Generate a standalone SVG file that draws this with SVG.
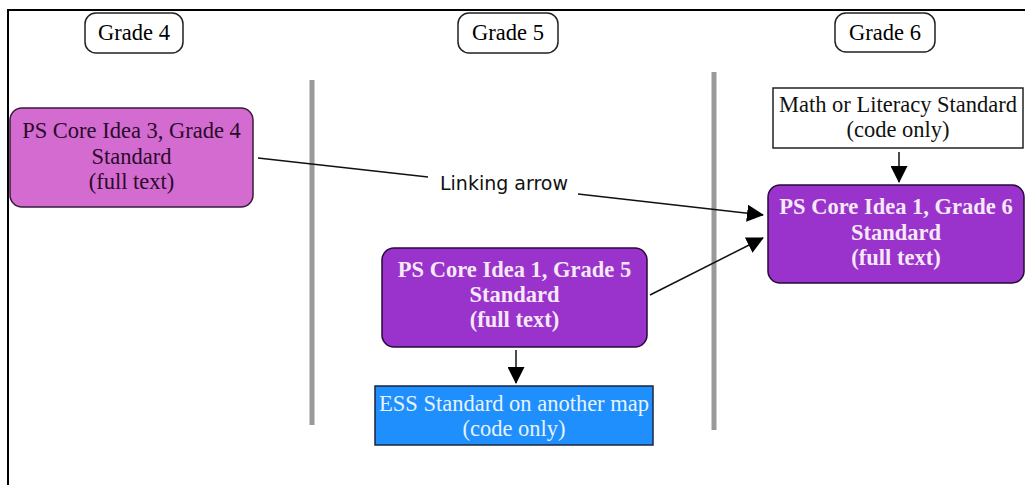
<svg xmlns="http://www.w3.org/2000/svg" width="1025" height="485" viewBox="0 0 1025 485">
<style>
.serif{font-family:"Liberation Serif","Times New Roman",serif;font-size:22.5px;text-anchor:middle}
.bold{font-weight:bold;fill:#f6e8f6}
.grade{fill:#fff;stroke:#222;stroke-width:1.5}
.divider{stroke:#9a9a9a;stroke-width:5}
.link{stroke:#111;stroke-width:1.5;fill:none}
</style>
<defs>
<marker id="ah" markerUnits="userSpaceOnUse" markerWidth="17" markerHeight="17" viewBox="0 0 17 17" refX="16" refY="8.5" orient="auto">
<path d="M0,0 L17,8.5 L0,17 Z" fill="#000"/>
</marker>
</defs>
<rect width="1025" height="485" fill="#fff"/>
<path d="M8,485 V10 H1025" fill="none" stroke="#000" stroke-width="2"/>
<line class="divider" x1="312" y1="80" x2="312" y2="425"/>
<line class="divider" x1="714" y1="72" x2="714" y2="430"/>
<g id="grade4"><rect class="grade" x="85" y="13" width="98" height="40" rx="11"/><text class="serif" x="134" y="40">Grade 4</text></g>
<g id="grade5"><rect class="grade" x="458" y="13" width="100" height="40" rx="11"/><text class="serif" x="508" y="40">Grade 5</text></g>
<g id="grade6"><rect class="grade" x="835" y="13" width="100" height="39" rx="11"/><text class="serif" x="885" y="40">Grade 6</text></g>
<g id="ps3g4"><rect x="10" y="108" width="243" height="99" rx="12" fill="#d46bd0" stroke="#3a1a3a" stroke-width="1.5"/>
<text class="serif" fill="#2a0a2a"><tspan x="131.5" y="138">PS Core Idea 3, Grade 4</tspan><tspan x="131.5" y="164">Standard</tspan><tspan x="131.5" y="189">(full text)</tspan></text></g>
<g id="ps1g5"><rect x="382" y="248" width="265" height="99" rx="12" fill="#9933cc" stroke="#2a0a3a" stroke-width="1.5"/>
<text class="serif bold"><tspan x="514.5" y="277">PS Core Idea 1, Grade 5</tspan><tspan x="514.5" y="302">Standard</tspan><tspan x="514.5" y="327">(full text)</tspan></text></g>
<g id="ps1g6"><rect x="768" y="185" width="256" height="98" rx="12" fill="#9933cc" stroke="#2a0a3a" stroke-width="1.5"/>
<text class="serif bold"><tspan x="896" y="214">PS Core Idea 1, Grade 6</tspan><tspan x="896" y="240">Standard</tspan><tspan x="896" y="265">(full text)</tspan></text></g>
<g id="ess"><rect x="375" y="386" width="278" height="59" fill="#1e8ffc" stroke="#1a2640" stroke-width="1.5"/>
<text class="serif" fill="#e6f3ff"><tspan x="514" y="411">ESS Standard on another map</tspan><tspan x="514" y="436">(code only)</tspan></text></g>
<g id="math"><rect x="773" y="88" width="250" height="60" fill="#fff" stroke="#222" stroke-width="1.5"/>
<text class="serif" fill="#111"><tspan x="898" y="112">Math or Literacy Standard</tspan><tspan x="898" y="137">(code only)</tspan></text></g>
<g id="connectors">
<line class="link" x1="258" y1="158" x2="428" y2="177"/>
<line class="link" x1="578" y1="194" x2="763" y2="215" marker-end="url(#ah)"/>
<text x="504" y="190" font-family="'DejaVu Sans',Verdana,sans-serif" font-size="19" text-anchor="middle" fill="#111">Linking arrow</text>
<line class="link" x1="650" y1="295" x2="763" y2="238" marker-end="url(#ah)"/>
<line class="link" x1="516" y1="350" x2="516" y2="383" marker-end="url(#ah)"/>
<line class="link" x1="899" y1="152" x2="899" y2="182" marker-end="url(#ah)"/>
</g>
</svg>
